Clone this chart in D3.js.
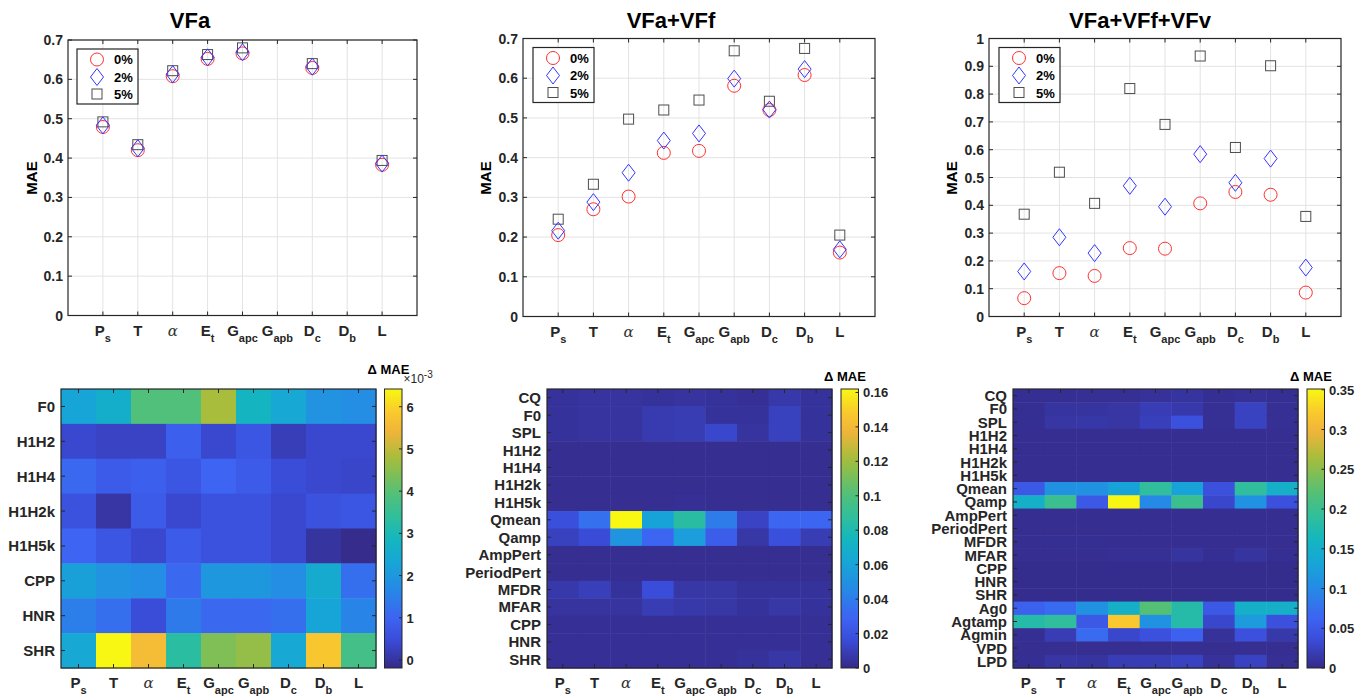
<!DOCTYPE html>
<html>
<head>
<meta charset="utf-8">
<script src="https://cdn.jsdelivr.net/npm/d3@7"></script>
<style>
  body { margin: 0; background: #fff; }
  svg { display: block; font-family: "Liberation Sans", Arial, sans-serif; }
  text { font-weight: bold; fill: #262626; }
</style>
</head>
<body>
<svg id="fig" width="1368" height="696"></svg>
<script>
// x categories (main letter + subscript)
var xCats = [["P", "s"], ["T", ""], ["α", ""], ["E", "t"], ["G", "apc"], ["G", "apb"], ["D", "c"], ["D", "b"], ["L", ""]];
var noiseLabels = ["0%", "2%", "5%"];

// MAE, VFa
var vfa0 = [0.479, 0.420, 0.608, 0.652, 0.666, null, 0.629, null, 0.383];
var vfa2 = [0.483, 0.425, 0.613, 0.656, 0.669, null, 0.632, null, 0.386];
var vfa5 = [0.492, 0.434, 0.622, 0.663, 0.680, null, 0.640, null, 0.394];
// MAE, VFa+VFf
var vff0 = [0.205, 0.270, 0.302, 0.412, 0.417, 0.581, 0.520, 0.608, 0.161];
var vff2 = [0.216, 0.288, 0.362, 0.443, 0.461, 0.599, 0.521, 0.623, 0.169];
var vff5 = [0.245, 0.333, 0.497, 0.520, 0.545, 0.669, 0.542, 0.675, 0.205];
// MAE, VFa+VFf+VFv
var vfv0 = [0.066, 0.156, 0.146, 0.246, 0.244, 0.407, 0.448, 0.438, 0.086];
var vfv2 = [0.162, 0.285, 0.228, 0.470, 0.395, 0.584, 0.481, 0.568, 0.176];
var vfv5 = [0.368, 0.519, 0.407, 0.820, 0.691, 0.937, 0.608, 0.902, 0.360];

var yTicks07 = [0, 0.1, 0.2, 0.3, 0.4, 0.5, 0.6, 0.7];
var yTicks07Labels = ["0", "0.1", "0.2", "0.3", "0.4", "0.5", "0.6", "0.7"];
var yTicks1 = [0, 0.1, 0.2, 0.3, 0.4, 0.5, 0.6, 0.7, 0.8, 0.9, 1];
var yTicks1Labels = ["0", "0.1", "0.2", "0.3", "0.4", "0.5", "0.6", "0.7", "0.8", "0.9", "1"];

// delta MAE heatmaps
var rowsA = ["F0", "H1H2", "H1H4", "H1H2k", "H1H5k", "CPP", "HNR", "SHR"];
var heatA = [ // x1e-3
  [2.3, 2.6, 3.9, 3.9, 4.8, 2.8, 2.4, 1.9, 1.8],
  [0.4, 0.3, 0.3, 0.9, 0.4, 0.7, 0.2, 0.4, 0.4],
  [1.1, 0.8, 0.9, 0.7, 1.0, 0.8, 0.5, 0.4, 0.35],
  [0.6, 0.05, 0.8, 0.4, 0.6, 0.6, 0.4, 0.6, 0.7],
  [1.0, 0.7, 0.4, 0.8, 0.6, 0.6, 0.4, 0.0, -0.15],
  [2.2, 1.9, 1.8, 1.1, 2.0, 2.0, 1.8, 2.5, 1.2],
  [1.5, 1.2, 0.5, 1.4, 1.1, 1.1, 1.2, 2.3, 1.6],
  [2.4, 6.4, 5.6, 3.3, 4.4, 4.6, 2.4, 5.8, 3.7]
];
var cbTicksA = [0, 1, 2, 3, 4, 5, 6];
var cbLabelsA = ["0", "1", "2", "3", "4", "5", "6"];

var rowsB = ["CQ", "F0", "SPL", "H1H2", "H1H4", "H1H2k", "H1H5k", "Qmean", "Qamp", "AmpPert", "PeriodPert", "MFDR", "MFAR", "CPP", "HNR", "SHR"];
var heatB = [
  [0.004, 0.005, 0.005, 0.004, 0.005, 0.004, 0.003, 0.007, 0.004],
  [0.004, 0.005, 0.005, 0.008, 0.009, 0.004, 0.004, 0.011, 0.004],
  [0.004, 0.005, 0.005, 0.008, 0.009, 0.014, 0.005, 0.011, 0.004],
  [0.002, 0.002, 0.002, 0.002, 0.002, 0.002, 0.002, 0.002, 0.002],
  [0.002, 0.002, 0.002, 0.002, 0.002, 0.002, 0.002, 0.002, 0.002],
  [0.002, 0.002, 0.002, 0.002, 0.002, 0.002, 0.002, 0.002, 0.002],
  [0.002, 0.002, 0.002, 0.002, 0.003, 0.002, 0.002, 0.002, 0.002],
  [0.018, 0.035, 0.162, 0.060, 0.085, 0.040, 0.012, 0.030, 0.030],
  [0.011, 0.016, 0.052, 0.030, 0.057, 0.025, 0.006, 0.018, 0.009],
  [0.002, 0.002, 0.002, 0.002, 0.002, 0.002, 0.002, 0.002, 0.002],
  [0.002, 0.002, 0.002, 0.002, 0.002, 0.002, 0.002, 0.002, 0.002],
  [0.007, 0.010, 0.004, 0.017, 0.006, 0.006, 0.004, 0.004, 0.004],
  [0.005, 0.005, 0.005, 0.009, 0.007, 0.006, 0.004, 0.006, 0.004],
  [0.003, 0.003, 0.003, 0.003, 0.003, 0.003, 0.003, 0.003, 0.003],
  [0.003, 0.003, 0.003, 0.003, 0.003, 0.003, 0.003, 0.003, 0.003],
  [0.003, 0.003, 0.003, 0.003, 0.003, 0.003, 0.004, 0.006, 0.003]
];
var cbTicksB = [0, 0.02, 0.04, 0.06, 0.08, 0.1, 0.12, 0.14, 0.16];
var cbLabelsB = ["0", "0.02", "0.04", "0.06", "0.08", "0.1", "0.12", "0.14", "0.16"];

var rowsC = ["CQ", "F0", "SPL", "H1H2", "H1H4", "H1H2k", "H1H5k", "Qmean", "Qamp", "AmpPert", "PeriodPert", "MFDR", "MFAR", "CPP", "HNR", "SHR", "Ag0", "Agtamp", "Agmin", "VPD", "LPD"];
var heatC = [
  [0.005, 0.005, 0.006, 0.006, 0.008, 0.010, 0.005, 0.007, 0.005],
  [0.005, 0.010, 0.010, 0.012, 0.020, 0.015, 0.006, 0.025, 0.006],
  [0.005, 0.012, 0.014, 0.012, 0.022, 0.040, 0.006, 0.025, 0.006],
  [0.004, 0.004, 0.004, 0.004, 0.004, 0.004, 0.004, 0.004, 0.004],
  [0.004, 0.004, 0.004, 0.004, 0.004, 0.004, 0.004, 0.004, 0.004],
  [0.004, 0.004, 0.004, 0.004, 0.004, 0.004, 0.004, 0.004, 0.004],
  [0.004, 0.004, 0.004, 0.004, 0.004, 0.004, 0.004, 0.004, 0.004],
  [0.050, 0.110, 0.110, 0.130, 0.190, 0.130, 0.040, 0.190, 0.150],
  [0.150, 0.200, 0.050, 0.350, 0.100, 0.200, 0.030, 0.110, 0.040],
  [0.004, 0.004, 0.004, 0.004, 0.004, 0.004, 0.004, 0.004, 0.004],
  [0.004, 0.004, 0.004, 0.004, 0.004, 0.004, 0.004, 0.004, 0.004],
  [0.004, 0.005, 0.005, 0.004, 0.004, 0.004, 0.004, 0.004, 0.004],
  [0.004, 0.004, 0.004, 0.006, 0.006, 0.010, 0.005, 0.010, 0.005],
  [0.003, 0.003, 0.003, 0.003, 0.003, 0.003, 0.003, 0.003, 0.003],
  [0.003, 0.003, 0.003, 0.003, 0.003, 0.003, 0.003, 0.003, 0.003],
  [0.003, 0.003, 0.003, 0.003, 0.003, 0.003, 0.003, 0.003, 0.003],
  [0.060, 0.070, 0.110, 0.150, 0.220, 0.180, 0.050, 0.150, 0.150],
  [0.180, 0.190, 0.050, 0.320, 0.110, 0.180, 0.030, 0.120, 0.040],
  [0.005, 0.020, 0.070, 0.030, 0.040, 0.060, 0.008, 0.040, 0.015],
  [0.004, 0.004, 0.004, 0.004, 0.004, 0.004, 0.004, 0.004, 0.004],
  [0.005, 0.012, 0.010, 0.020, 0.020, 0.025, 0.008, 0.025, 0.006]
];
var cbTicksC = [0, 0.05, 0.1, 0.15, 0.2, 0.25, 0.3, 0.35];
var cbLabelsC = ["0", "0.05", "0.1", "0.15", "0.2", "0.25", "0.3", "0.35"];

// parula-like colour ramp
var parulaPos = [0, 0.10, 0.18, 0.28, 0.38, 0.46, 0.55, 0.63, 0.75, 0.85, 0.92, 1];
var parulaCol = ["#352a87", "#3a4cd8", "#3d64f2", "#2688e6", "#17a6d6", "#14b6bf", "#33bf98", "#55c075", "#a5bd3c", "#f2b43a", "#f9cb2c", "#f8f812"];
var parula = d3.scaleLinear().domain(parulaPos).range(parulaCol)
  .interpolate(d3.interpolateRgb).clamp(true);

var svg = d3.select("#fig");
var axisCol = "#262626";

function xLabel(g, x, y, cat) {
  var t = g.append("text").attr("x", x).attr("y", y).attr("text-anchor", "middle");
  if (cat[0] == "α") {
    t.append("tspan").text(cat[0])
      .style("font-family", "'DejaVu Serif', 'Liberation Serif', serif")
      .style("font-style", "italic").style("font-weight", "normal")
      .style("font-size", "15px").style("fill", "#333");
  } else {
    t.append("tspan").text(cat[0]).style("font-size", "15px");
  }
  if (cat[1]) {
    t.append("tspan").attr("dy", 6).text(cat[1]).style("font-size", "11px");
  }
}

function drawScatter(cfg) {
  var g = svg.append("g");
  var x = d3.scaleLinear().domain([0, 10]).range([cfg.x0, cfg.x1]);
  var y = d3.scaleLinear().domain([0, cfg.ymax]).range([cfg.y1, cfg.y0]);
  var idx = d3.range(xCats.length);

  // grid
  g.selectAll(".gx").data(idx).enter().append("line")
    .attr("x1", function(i) { return x(i + 1); }).attr("x2", function(i) { return x(i + 1); })
    .attr("y1", cfg.y0).attr("y2", cfg.y1).attr("stroke", "#e3e3e3");
  g.selectAll(".gy").data(cfg.ticks).enter().append("line")
    .attr("x1", cfg.x0).attr("x2", cfg.x1)
    .attr("y1", function(d) { return y(d); }).attr("y2", function(d) { return y(d); })
    .attr("stroke", "#e3e3e3");

  // inward ticks
  idx.forEach(function(i) {
    var xx = x(i + 1);
    g.append("line").attr("x1", xx).attr("x2", xx).attr("y1", cfg.y1).attr("y2", cfg.y1 - 4).attr("stroke", axisCol);
    g.append("line").attr("x1", xx).attr("x2", xx).attr("y1", cfg.y0).attr("y2", cfg.y0 + 4).attr("stroke", axisCol);
    xLabel(g, xx, cfg.y1 + 20, xCats[i]);
  });
  cfg.ticks.forEach(function(d, k) {
    var yy = y(d);
    g.append("line").attr("x1", cfg.x0).attr("x2", cfg.x0 + 4).attr("y1", yy).attr("y2", yy).attr("stroke", axisCol);
    g.append("line").attr("x1", cfg.x1).attr("x2", cfg.x1 - 4).attr("y1", yy).attr("y2", yy).attr("stroke", axisCol);
    g.append("text").attr("x", cfg.x0 - 5).attr("y", yy + 5).attr("text-anchor", "end")
      .style("font-size", "14px").text(cfg.tickLabels[k]);
  });

  g.append("rect").attr("x", cfg.x0).attr("y", cfg.y0)
    .attr("width", cfg.x1 - cfg.x0).attr("height", cfg.y1 - cfg.y0)
    .attr("fill", "none").attr("stroke", axisCol).attr("stroke-width", 1.2);

  // markers
  var s0 = cfg.series[0], s2 = cfg.series[1], s5 = cfg.series[2];
  g.selectAll(".sq").data(idx.filter(function(i) { return s5[i] != null; })).enter().append("rect")
    .attr("x", function(i) { return x(i + 1) - 5; }).attr("y", function(i) { return y(s5[i]) - 5; })
    .attr("width", 10).attr("height", 10)
    .attr("fill", "none").attr("stroke", "#4d4d4d").attr("stroke-width", 1);
  g.selectAll(".ci").data(idx.filter(function(i) { return s0[i] != null; })).enter().append("circle")
    .attr("cx", function(i) { return x(i + 1); }).attr("cy", function(i) { return y(s0[i]); })
    .attr("r", 6.5).attr("fill", "none").attr("stroke", "#ff3030").attr("stroke-width", 1);
  g.selectAll(".di").data(idx.filter(function(i) { return s2[i] != null; })).enter().append("path")
    .attr("d", function(i) {
      var cx = x(i + 1), cy = y(s2[i]);
      return "M" + cx + "," + (cy - 8.5) + "L" + (cx + 6.5) + "," + cy + "L" + cx + "," + (cy + 8.5) + "L" + (cx - 6.5) + "," + cy + "Z";
    })
    .attr("fill", "none").attr("stroke", "#3535ff").attr("stroke-width", 1);

  // title and y label
  g.append("text").attr("x", cfg.titleX).attr("y", 28).attr("text-anchor", "middle")
    .style("font-size", "22px").style("fill", "#000").text(cfg.title);
  g.append("text").attr("transform", "translate(" + cfg.ylabX + ",178) rotate(-90)")
    .attr("text-anchor", "middle").style("font-size", "15px").style("fill", "#000").text("MAE");

  // legend
  var L = cfg.legend;
  g.append("rect").attr("x", L.x).attr("y", L.y).attr("width", 61).attr("height", 55)
    .attr("fill", "#fff").attr("stroke", axisCol).attr("stroke-width", 1.2);
  var lx = L.x + 20;
  g.append("circle").attr("cx", lx).attr("cy", L.y + 10.5).attr("r", 6.5)
    .attr("fill", "none").attr("stroke", "#ff3030");
  g.append("path").attr("d", "M" + lx + "," + (L.y + 19.5) + "l6.5,8.5l-6.5,8.5l-6.5,-8.5Z")
    .attr("fill", "none").attr("stroke", "#3535ff");
  g.append("rect").attr("x", lx - 5).attr("y", L.y + 40).attr("width", 10).attr("height", 10)
    .attr("fill", "none").attr("stroke", "#4d4d4d");
  noiseLabels.forEach(function(t, k) {
    g.append("text").attr("x", L.x + 37).attr("y", L.y + 15 + k * 17.5)
      .style("font-size", "13px").style("fill", "#000").text(t);
  });
}

function drawHeat(cfg) {
  var g = svg.append("g");
  var x = d3.scaleBand().domain(d3.range(xCats.length)).range([cfg.x0, cfg.x1]);
  var y = d3.scaleBand().domain(cfg.rows).range([cfg.y0, cfg.y1]);
  var norm = d3.scaleLinear().domain(cfg.clim).range([0, 1]);
  var cells = [];
  cfg.values.forEach(function(row, r) {
    row.forEach(function(v, c) { cells.push({ r: cfg.rows[r], c: c, v: v }); });
  });
  g.selectAll(".cell").data(cells).enter().append("rect")
    .attr("x", function(d) { return x(d.c); }).attr("y", function(d) { return y(d.r); })
    .attr("width", x.bandwidth() + 0.5).attr("height", y.bandwidth() + 0.5)
    .attr("fill", function(d) { return parula(norm(d.v)); });

  d3.range(xCats.length).forEach(function(i) {
    var xx = x(i) + x.bandwidth() / 2;
    g.append("line").attr("x1", xx).attr("x2", xx).attr("y1", cfg.y1).attr("y2", cfg.y1 - 4).attr("stroke", axisCol);
    g.append("line").attr("x1", xx).attr("x2", xx).attr("y1", cfg.y0).attr("y2", cfg.y0 + 4).attr("stroke", axisCol);
    xLabel(g, xx, 688, xCats[i]);
  });
  cfg.rows.forEach(function(r) {
    var yy = y(r) + y.bandwidth() / 2;
    g.append("line").attr("x1", cfg.x0).attr("x2", cfg.x0 + 4).attr("y1", yy).attr("y2", yy).attr("stroke", axisCol);
    g.append("line").attr("x1", cfg.x1).attr("x2", cfg.x1 - 4).attr("y1", yy).attr("y2", yy).attr("stroke", axisCol);
    g.append("text").attr("x", cfg.x0 - 6).attr("y", yy + 5.5).attr("text-anchor", "end")
      .style("font-size", "15px").text(r);
  });
  g.append("rect").attr("x", cfg.x0).attr("y", cfg.y0)
    .attr("width", cfg.x1 - cfg.x0).attr("height", cfg.y1 - cfg.y0)
    .attr("fill", "none").attr("stroke", axisCol).attr("stroke-width", 1.2);

  // colorbar
  var gid = "grad" + cfg.id;
  var grad = svg.append("defs").append("linearGradient").attr("id", gid)
    .attr("x1", 0).attr("y1", 1).attr("x2", 0).attr("y2", 0);
  d3.range(0, 1.0001, 0.02).forEach(function(t) {
    grad.append("stop").attr("offset", t).attr("stop-color", parula(t));
  });
  var cb = d3.scaleLinear().domain(cfg.clim).range([cfg.y1, cfg.y0]);
  g.append("rect").attr("x", cfg.cbx).attr("y", cfg.y0).attr("width", 17.5).attr("height", cfg.y1 - cfg.y0)
    .attr("fill", "url(#" + gid + ")").attr("stroke", axisCol).attr("stroke-width", 1);
  cfg.cbTicks.forEach(function(d, k) {
    var yy = cb(d);
    g.append("line").attr("x1", cfg.cbx + 17.5).attr("x2", cfg.cbx + 14.5).attr("y1", yy).attr("y2", yy).attr("stroke", axisCol);
    g.append("text").attr("x", cfg.cbx + 22).attr("y", yy + 5).style("font-size", "13px").text(cfg.cbLabels[k]);
  });
  g.append("text").attr("x", cfg.cbx + 4).attr("y", cfg.titleY).attr("text-anchor", "middle")
    .style("font-size", "13px").style("fill", "#000").text("Δ MAE");
  if (cfg.exp) {
    var e = g.append("text").attr("x", cfg.cbx + 19).attr("y", 383)
      .style("font-size", "12px").style("font-weight", "normal");
    e.append("tspan").text("×10");
    e.append("tspan").attr("dy", -5).style("font-size", "10px").text("-3");
  }
}

drawScatter({ x0: 68, x1: 417, y0: 40, y1: 315.5, ymax: 0.7, ticks: yTicks07, tickLabels: yTicks07Labels,
  series: [vfa0, vfa2, vfa5], title: "VFa", titleX: 190, ylabX: 37, legend: { x: 77, y: 49 } });
drawScatter({ x0: 523, x1: 875, y0: 38.5, y1: 316.5, ymax: 0.7, ticks: yTicks07, tickLabels: yTicks07Labels,
  series: [vff0, vff2, vff5], title: "VFa+VFf", titleX: 671, ylabX: 491, legend: { x: 533, y: 47.5 } });
drawScatter({ x0: 989, x1: 1341, y0: 38.5, y1: 316.5, ymax: 1, ticks: yTicks1, tickLabels: yTicks1Labels,
  series: [vfv0, vfv2, vfv5], title: "VFa+VFf+VFv", titleX: 1140, ylabX: 957, legend: { x: 999, y: 47.5 } });

drawHeat({ id: "A", x0: 61, x1: 376, y0: 389, y1: 668, rows: rowsA, values: heatA, clim: [-0.19, 6.42],
  cbx: 384.5, cbTicks: cbTicksA, cbLabels: cbLabelsA, titleY: 374, exp: true });
drawHeat({ id: "B", x0: 547, x1: 832, y0: 389, y1: 668, rows: rowsB, values: heatB, clim: [0, 0.162],
  cbx: 841, cbTicks: cbTicksB, cbLabels: cbLabelsB, titleY: 381 });
drawHeat({ id: "C", x0: 1013, x1: 1298, y0: 389, y1: 668, rows: rowsC, values: heatC, clim: [0, 0.351],
  cbx: 1307, cbTicks: cbTicksC, cbLabels: cbLabelsC, titleY: 381 });
</script>
</body>
</html>
